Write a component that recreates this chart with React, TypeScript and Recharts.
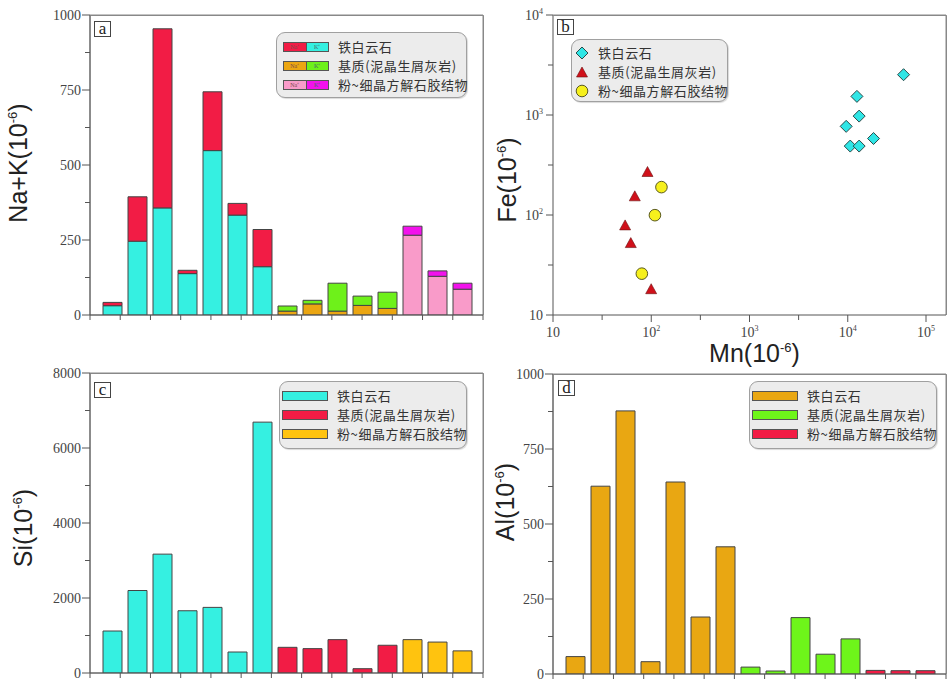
import React from "react";
import { BarChart, Bar, Cell, XAxis, YAxis, ScatterChart, Scatter, ReferenceArea, ReferenceLine } from "recharts";

// 15 samples: 7 铁白云石, 5 基质, 3 粉~细晶方解石胶结物
const samples = ["1", "2", "3", "4", "5", "6", "7", "8", "9", "10", "11", "12", "13", "14", "15"];
const sampleGroup = [0, 0, 0, 0, 0, 0, 0, 1, 1, 1, 1, 1, 2, 2, 2];
const groupNames = ["铁白云石", "基质(泥晶生屑灰岩)", "粉~细晶方解石胶结物"];

// a: Na + K, lower part / upper part of each stacked bar
const naKLower = [31, 246, 357, 138, 548, 333, 161, 13, 37, 13, 32, 22, 266, 129, 86];
const naKUpper = [11, 148, 597, 11, 196, 39, 124, 17, 12, 93, 31, 54, 30, 18, 20];
// c: Si
const siValues = [1120, 2200, 3170, 1660, 1750, 560, 6690, 685, 650, 890, 115, 740, 890, 825, 590];
// d: Al
const alValues = [58, 626, 877, 41, 640, 190, 424, 23, 10, 188, 66, 117, 12, 11, 11];

// b: Mn vs Fe
const dolomiteMn = [37000, 12400, 13060, 9640, 18300, 10600, 13060];
const dolomiteFe = [2530, 1535, 975, 770, 582, 489, 489];
const matrixMn = [91.6, 68, 54.2, 61.9, 99.8];
const matrixFe = [266, 152, 77.8, 51.8, 17.9];
const cementMn = [127, 109, 80.2];
const cementFe = [190, 99.6, 25.9];

const naKTicks = [0, 125, 250, 375, 500, 625, 750, 875, 1000];
const siTicks = [0, 1000, 2000, 3000, 4000, 5000, 6000, 7000, 8000];
const alTicks = [0, 125, 250, 375, 500, 625, 750, 875, 1000];
const bottomTicks = [0, 1, 2, 3, 4, 5, 6, 7, 8, 9, 10, 11, 12, 13];
const logXTicks = [10, 31.62, 100, 316.2, 1000, 3162, 10000, 31620, 100000];
const logYTicks = [10, 31.62, 100, 316.2, 1000, 3162, 10000];

const lowerColors = ["#35f0e1", "#eba612", "#f99bc9"];
const upperColors = ["#f21c45", "#6ef11a", "#f212ec"];
const naColors = ["#f21c45", "#eba612", "#f99bc9"];
const kColors = ["#35f0e1", "#6ef11a", "#f212ec"];
const siColors = ["#35f0e1", "#f21c45", "#ffc30f"];
const alColors = ["#e9a712", "#6ef51a", "#f21c45"];

const naKData = samples.map((s, i) => ({ sample: s, lower: naKLower[i], upper: naKUpper[i] }));
const siData = samples.map((s, i) => ({ sample: s, value: siValues[i] }));
const alData = samples.map((s, i) => ({ sample: s, value: alValues[i] }));
const toPoints = (mn: number[], fe: number[]) => mn.map((m, i) => ({ mn: m, fe: fe[i] }));

// the unlabeled tick axis lives in index space (0 .. samples-1), 13 equal steps across it
const idxMax = samples.length - 1;
const tickPos = bottomTicks.map((t) => (t * idxMax) / 13);

const AXIS = "#555";
const FRAME = "#888";
const serif = "'Liberation Serif', 'Times New Roman', serif";
const sans = "'Liberation Sans', Arial, sans-serif";
const cjk = "'Noto Sans CJK SC', sans-serif";

const yTick = (step: number) => (props: any) => {
  const { x, y, payload } = props;
  const major = payload.value % step === 0;
  return (
    <g>
      <line x1={x - (major ? 8 : 5)} x2={x} y1={y} y2={y} stroke={AXIS} />
      {major && (
        <text x={x - 9} y={y} dy={5} textAnchor="end" fontFamily={serif} fontSize={14} fill="#444">
          {payload.value}
        </text>
      )}
    </g>
  );
};

const powText = (e: number) =>
  e === 1 ? "10" : (
    <>
      10<tspan dy={-6} fontSize={8}>{e}</tspan>
    </>
  );

const LogXTick = (props: any) => {
  const { x, y, payload } = props;
  const e = Math.log10(payload.value);
  const major = Math.abs(e - Math.round(e)) < 0.01;
  return (
    <g>
      <line x1={x} x2={x} y1={y} y2={y + (major ? 7 : 5)} stroke={AXIS} />
      {major && (
        <text x={x} y={y + 22} textAnchor="middle" fontFamily={serif} fontSize={14} fill="#444">
          {powText(Math.round(e))}
        </text>
      )}
    </g>
  );
};

const LogYTick = (props: any) => {
  const { x, y, payload } = props;
  const e = Math.log10(payload.value);
  const major = Math.abs(e - Math.round(e)) < 0.01;
  return (
    <g>
      <line x1={x - (major ? 7 : 5)} x2={x} y1={y} y2={y} stroke={AXIS} />
      {major && (
        <text x={x - 10} y={y} dy={5} textAnchor="end" fontFamily={serif} fontSize={14} fill="#444">
          {powText(Math.round(e))}
        </text>
      )}
    </g>
  );
};

// rotated axis title "X(10^-6)"
const yTitle = (name: string, dx: number, dy: number) => (props: any) => {
  const vb = props.viewBox;
  const cx = vb.x + vb.width - dx;
  const cy = vb.y + vb.height / 2 + dy;
  return (
    <text x={cx} y={cy} dy={9} transform={`rotate(-90, ${cx}, ${cy})`} textAnchor="middle" fontFamily={sans} fontSize={25} fill="#222">
      {name}(10<tspan dy={-10} fontSize={13}>-6</tspan>
      <tspan dy={10}>)</tspan>
    </text>
  );
};

const MnTitle = (props: any) => {
  const vb = props.viewBox;
  return (
    <text x={vb.x + vb.width / 2 + 5} y={vb.y + 47} textAnchor="middle" fontFamily={sans} fontSize={25} fill="#222">
      Mn(10<tspan dy={-10} fontSize={13}>-6</tspan>
      <tspan dy={10}>)</tspan>
    </text>
  );
};

const Diamond = (p: any) => (
  <polygon
    points={`${p.cx},${p.cy - 6} ${p.cx + 6},${p.cy} ${p.cx},${p.cy + 6} ${p.cx - 6},${p.cy}`}
    fill="#2fe6e6"
    stroke="#2a4a4a"
  />
);
const Triangle = (p: any) => (
  <polygon
    points={`${p.cx},${p.cy - 6} ${p.cx + 5.5},${p.cy + 4} ${p.cx - 5.5},${p.cy + 4}`}
    fill="#d0101a"
    stroke="#6a1010"
    strokeWidth={0.6}
  />
);
const Dot = (p: any) => <circle cx={p.cx} cy={p.cy} r={5.8} fill="#f6f01c" stroke="#5a5a20" />;

const PanelTag = ({ text, left, top }: { text: string; left: number; top: number }) => (
  <div
    style={{
      position: "absolute", left, top, width: 15, height: 14, border: "1px solid #444",
      fontFamily: serif, fontSize: 17, lineHeight: "13px", textAlign: "center", color: "#222", background: "#fff",
    }}
  >
    {text}
  </div>
);

const legendBox = (left: number, top: number, width: number, height: number): React.CSSProperties => ({
  position: "absolute", left, top, width, height, boxSizing: "border-box",
  border: "1px solid #a0a0a0", borderRadius: 9, background: "#ececec",
  boxShadow: "1px 1px 1px rgba(0,0,0,0.15)",
});
const legendText: React.CSSProperties = { fontFamily: cjk, fontSize: 13, letterSpacing: 0.6, color: "#333", whiteSpace: "nowrap" };

const PairSwatch = ({ a, b }: { a: string; b: string }) => (
  <div style={{ display: "flex", width: 46, height: 10, border: "1px solid #555", boxSizing: "border-box" }}>
    <div style={{ flex: 1, background: a, fontSize: 6, lineHeight: "8px", textAlign: "center", color: "#7a4a4a", borderRight: "1px solid #555" }}>Na⁺</div>
    <div style={{ flex: 1, background: b, fontSize: 6, lineHeight: "8px", textAlign: "center", color: "#4a6a6a" }}>K⁺</div>
  </div>
);
const BarSwatch = ({ c }: { c: string }) => (
  <div style={{ width: 46, height: 10, background: c, border: "1px solid #555", boxSizing: "border-box" }} />
);

const Row = ({ children, label }: { children: React.ReactNode; label: string }) => (
  <div style={{ display: "flex", alignItems: "center", height: 19 }}>
    {children}
    <span style={{ ...legendText, marginLeft: 9 }}>{label}</span>
  </div>
);

const frameProps = { fill: "none", fillOpacity: 0, stroke: FRAME, strokeWidth: 1, ifOverflow: "visible" as const };

// top + right border of each plot area (bottom/left are the axes)
const Frames = () => (
  <svg width={950} height={684} style={{ position: "absolute", left: 0, top: 0, zIndex: 3, pointerEvents: "none" }}>
    <g fill="none" stroke={FRAME} strokeWidth={1}>
      <path d="M90.5,15.5 H483.5 V315" />
      <path d="M553.5,15.5 H946.5 V315" />
      <path d="M90.5,373.5 H483.5 V673" />
      <path d="M553.5,374.5 H946.5 V674" />
    </g>
  </svg>
);

const SingleBars = ({ data, colors, ticks, step, max, title, titleDx, titleDy }: any) => (
  <BarChart width={490} height={345} data={data} margin={{ top: 15, right: 7, left: 40, bottom: 10 }} barSize={19}>
    <XAxis
      xAxisId="tk" type="number" domain={[0, idxMax]} allowDataOverflow ticks={tickPos}
      tickFormatter={() => ""} tickSize={5} height={20} stroke={AXIS}
    />
    <XAxis dataKey="sample" xAxisId="cat" hide height={0} padding={{ left: 10, right: 8 }} />
    <YAxis
      domain={[0, max]} allowDataOverflow ticks={ticks} tickLine={false} tickSize={0} tickMargin={0}
      tick={yTick(step)} width={50} axisLine={{ stroke: AXIS }} label={yTitle(title, titleDx, titleDy)}
    />
    <ReferenceArea xAxisId="tk" x1={0} x2={idxMax} y1={0} y2={max} {...frameProps} />
    <Bar xAxisId="cat" dataKey="value" stroke="#444" strokeWidth={1} isAnimationActive={false}>
      {data.map((_: any, i: number) => (
        <Cell key={i} fill={colors[sampleGroup[i]]} />
      ))}
    </Bar>
  </BarChart>
);

export default function App() {
  return (
    <div style={{ position: "absolute", left: 0, top: 0, width: 950, height: 684, background: "#fff", overflow: "hidden" }}>
      {/* a */}
      <div style={{ position: "absolute", left: 0, top: 0 }}>
        <BarChart width={490} height={345} data={naKData} margin={{ top: 15, right: 7, left: 40, bottom: 10 }} barSize={19}>
          <XAxis
            xAxisId="tk" type="number" domain={[0, idxMax]} allowDataOverflow ticks={tickPos}
            tickFormatter={() => ""} tickSize={5} height={20} stroke={AXIS}
          />
          <XAxis dataKey="sample" xAxisId="cat" hide height={0} padding={{ left: 10, right: 8 }} />
          <YAxis
            domain={[0, 1000]} allowDataOverflow ticks={naKTicks} tickLine={false} tickSize={0} tickMargin={0}
            tick={yTick(250)} width={50} axisLine={{ stroke: AXIS }} label={yTitle("Na+K", 72, -2)}
          />
          <ReferenceArea xAxisId="tk" x1={0} x2={idxMax} y1={0} y2={1000} {...frameProps} />
          <Bar xAxisId="cat" dataKey="lower" stackId="s" stroke="#444" isAnimationActive={false}>
            {naKData.map((_, i) => (
              <Cell key={i} fill={lowerColors[sampleGroup[i]]} />
            ))}
          </Bar>
          <Bar xAxisId="cat" dataKey="upper" stackId="s" stroke="#444" isAnimationActive={false}>
            {naKData.map((_, i) => (
              <Cell key={i} fill={upperColors[sampleGroup[i]]} />
            ))}
          </Bar>
        </BarChart>
        <PanelTag text="a" left={94} top={21} />
        <div style={legendBox(276, 32, 191, 66)}>
          <div style={{ position: "absolute", left: 6, top: 4 }}>
            {groupNames.map((g, k) => (
              <Row key={g} label={g}>
                <PairSwatch a={naColors[k]} b={kColors[k]} />
              </Row>
            ))}
          </div>
        </div>
      </div>

      {/* b */}
      <div style={{ position: "absolute", left: 475, top: 0, width: 475, height: 370 }}>
        <ScatterChart width={475} height={370} margin={{ top: 15, right: 4, left: 28, bottom: 25 }}>
          <XAxis
            type="number" dataKey="mn" scale="log" domain={[10, 100000]} allowDataOverflow ticks={logXTicks}
            tick={LogXTick} tickLine={false} tickSize={0} tickMargin={0} height={30}
            axisLine={{ stroke: AXIS }} label={MnTitle}
          />
          <YAxis
            type="number" dataKey="fe" scale="log" domain={[10, 10000]} allowDataOverflow ticks={logYTicks}
            tick={LogYTick} tickLine={false} tickSize={0} tickMargin={0} width={50}
            axisLine={{ stroke: AXIS }} label={yTitle("Fe", 46, 15)}
          />
          <ReferenceLine y={10000} stroke={FRAME} ifOverflow="visible" />
          <ReferenceLine x={100000} stroke={FRAME} ifOverflow="visible" />
          <Scatter data={toPoints(dolomiteMn, dolomiteFe)} shape={Diamond} isAnimationActive={false} />
          <Scatter data={toPoints(matrixMn, matrixFe)} shape={Triangle} isAnimationActive={false} />
          <Scatter data={toPoints(cementMn, cementFe)} shape={Dot} isAnimationActive={false} />
        </ScatterChart>
        <PanelTag text="b" left={82} top={19} />
        <div style={legendBox(96, 39, 157, 63)}>
          <div style={{ position: "absolute", left: 3, top: 3 }}>
            <Row label={groupNames[0]}>
              <svg width={14} height={14}><polygon points="7,1 13,7 7,13 1,7" fill="#2fe6e6" stroke="#2a4a4a" /></svg>
            </Row>
            <Row label={groupNames[1]}>
              <svg width={14} height={14}><polygon points="7,2 12.5,12 1.5,12" fill="#d0101a" stroke="#6a1010" strokeWidth={0.6} /></svg>
            </Row>
            <Row label={groupNames[2]}>
              <svg width={14} height={14}><circle cx={7} cy={7} r={5.8} fill="#f6f01c" stroke="#5a5a20" /></svg>
            </Row>
          </div>
        </div>
      </div>

      {/* c */}
      <div style={{ position: "absolute", left: 0, top: 358 }}>
        <SingleBars data={siData} colors={siColors} ticks={siTicks} step={2000} max={8000} title="Si" titleDx={67} titleDy={5} />
        <PanelTag text="c" left={94} top={24} />
        <div style={legendBox(279, 23, 188, 68)}>
          <div style={{ position: "absolute", left: 2, top: 4 }}>
            {groupNames.map((g, k) => (
              <Row key={g} label={g}>
                <BarSwatch c={siColors[k]} />
              </Row>
            ))}
          </div>
        </div>
      </div>

      {/* d */}
      <div style={{ position: "absolute", left: 463, top: 359 }}>
        <SingleBars data={alData} colors={alColors} ticks={alTicks} step={250} max={1000} title="Al" titleDx={48} titleDy={-22} />
        <PanelTag text="d" left={95} top={21} />
        <div style={legendBox(286, 22, 188, 68)}>
          <div style={{ position: "absolute", left: 2, top: 4 }}>
            {groupNames.map((g, k) => (
              <Row key={g} label={g}>
                <BarSwatch c={alColors[k]} />
              </Row>
            ))}
          </div>
        </div>
      </div>

      <Frames />
    </div>
  );
}
